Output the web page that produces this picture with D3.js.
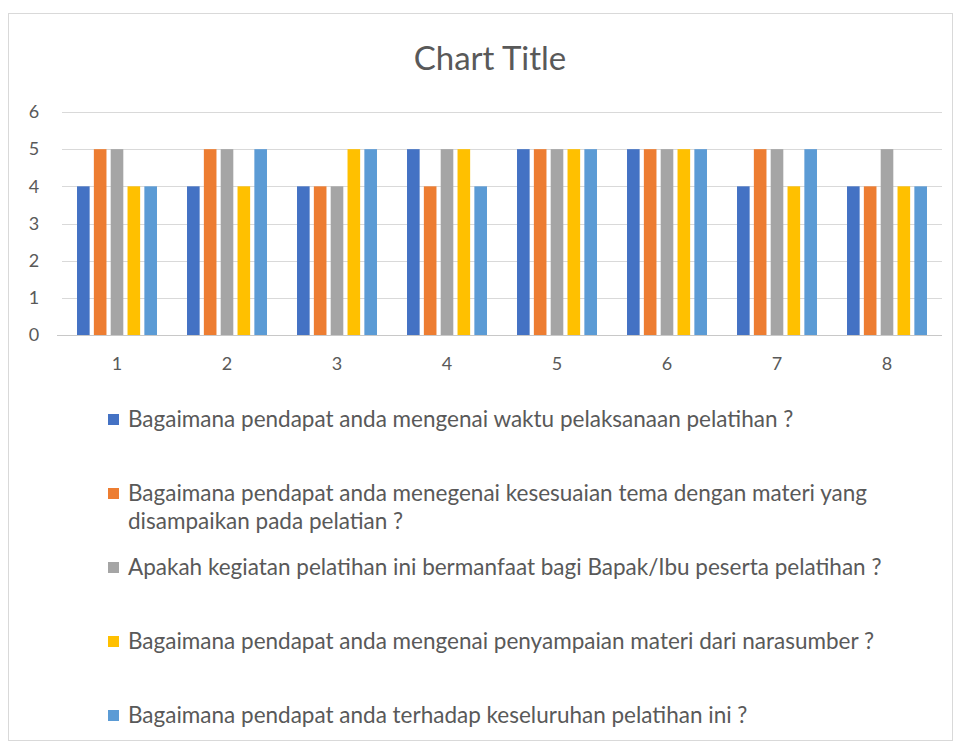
<!DOCTYPE html>
<html>
<head>
<meta charset="utf-8">
<script src="https://cdn.jsdelivr.net/npm/d3@7"></script>
<style>
  body { margin: 0; background: #fff; }
  text { font-family: Lato, "Open Sans", sans-serif; fill: #595959; }
</style>
</head>
<body>
<script>

const svgWidth = 957;
const svgHeight = 744;

// Data
const categories = ["1", "2", "3", "4", "5", "6", "7", "8"];
const seriesNames = [
  "Bagaimana pendapat anda mengenai waktu pelaksanaan pelatihan ?",
  "Bagaimana pendapat anda menegenai kesesuaian tema dengan materi yang disampaikan pada pelatian ?",
  "Apakah kegiatan pelatihan ini bermanfaat bagi Bapak/Ibu peserta pelatihan ?",
  "Bagaimana pendapat anda mengenai penyampaian materi dari narasumber ?",
  "Bagaimana pendapat anda terhadap keseluruhan pelatihan ini ?"
];
const waktu = [4, 4, 4, 5, 5, 5, 4, 4];
const kesesuaian = [5, 5, 4, 4, 5, 5, 5, 4];
const manfaat = [5, 5, 4, 5, 5, 5, 5, 5];
const narasumber = [4, 4, 5, 5, 5, 5, 4, 4];
const keseluruhan = [4, 5, 5, 4, 5, 5, 5, 4];
const yTicks = [0, 1, 2, 3, 4, 5, 6];

const seriesValues = [waktu, kesesuaian, manfaat, narasumber, keseluruhan];
const colors = ["#4472C4", "#ED7D31", "#A5A5A5", "#FFC000", "#5B9BD5"];

const plot = { left: 62, right: 942, top: 112, bottom: 335 };

const svg = d3.select("body")
  .append("svg")
  .attr("width", svgWidth)
  .attr("height", svgHeight);

// outer chart frame
svg.append("rect")
  .attr("x", 8.5)
  .attr("y", 13.5)
  .attr("width", 944)
  .attr("height", 727)
  .attr("fill", "#fff")
  .attr("stroke", "#d9d9d9");

// title
svg.append("text")
  .attr("x", 490)
  .attr("y", 70)
  .attr("text-anchor", "middle")
  .style("font-size", "33px")
  .text("Chart Title");

const yScale = d3.scaleLinear()
  .domain([0, 6])
  .range([plot.bottom, plot.top]);

const x0 = d3.scaleBand()
  .domain(categories)
  .range([plot.left, plot.right])
  .paddingInner(0.273)
  .paddingOuter(0.1365);

const x1 = d3.scaleBand()
  .domain(d3.range(seriesValues.length))
  .range([0, x0.bandwidth()])
  .paddingInner(0.25);

// gridlines
svg.append("g")
  .selectAll("line")
  .data(yTicks.slice(1))
  .enter()
  .append("line")
  .attr("x1", plot.left)
  .attr("x2", plot.right)
  .attr("y1", d => Math.round(yScale(d)) + 0.5)
  .attr("y2", d => Math.round(yScale(d)) + 0.5)
  .attr("stroke", "#d9d9d9");

// y labels
const yAxis = d3.axisLeft(yScale).tickValues(yTicks).tickFormat(d3.format("d")).tickSize(0).tickPadding(0);
svg.append("g")
  .attr("transform", "translate(34,0)")
  .call(yAxis)
  .call(g => g.select(".domain").remove())
  .selectAll("text")
  .attr("text-anchor", "middle")
  .style("font-size", "18px");

// bars
const groups = svg.append("g")
  .selectAll("g")
  .data(categories)
  .enter()
  .append("g")
  .attr("transform", d => `translate(${x0(d)},0)`);

groups.selectAll("rect")
  .data((c, ci) => seriesValues.map((vals, si) => ({ si: si, v: vals[ci] })))
  .enter()
  .append("rect")
  .attr("x", d => x1(d.si))
  .attr("y", d => yScale(d.v))
  .attr("width", x1.bandwidth())
  .attr("height", d => plot.bottom - yScale(d.v))
  .attr("fill", d => colors[d.si]);

// x axis
const xAxis = d3.axisBottom(x0).tickSize(0).tickPadding(22);
svg.append("g")
  .attr("transform", `translate(0,${plot.bottom})`)
  .call(xAxis)
  .call(g => g.select(".domain").attr("stroke", "#c8c8c8").attr("d", `M${plot.left - 5},0.5H${plot.right}`))
  .selectAll("text")
  .style("font-size", "18px");

// legend
const legend = svg.append("g");
const maxWidth = 790;
seriesNames.forEach((name, i) => {
  const y = 420 + i * 74;
  legend.append("rect")
    .attr("x", 108)
    .attr("y", y - 6)
    .attr("width", 11)
    .attr("height", 11)
    .attr("fill", colors[i]);
  const t = legend.append("text")
    .attr("x", 128)
    .attr("y", y + 7)
    .style("font-size", "22.5px");
  // wrap long labels
  const words = name.split(" ");
  let line = [];
  let tspan = t.append("tspan").attr("x", 128).attr("dy", 0);
  words.forEach(w => {
    line.push(w);
    tspan.text(line.join(" "));
    if (tspan.node().getComputedTextLength() > maxWidth && line.length > 1) {
      line.pop();
      tspan.text(line.join(" "));
      line = [w];
      tspan = t.append("tspan").attr("x", 128).attr("dy", 28).text(w);
    }
  });
});

</script>
</body>
</html>
